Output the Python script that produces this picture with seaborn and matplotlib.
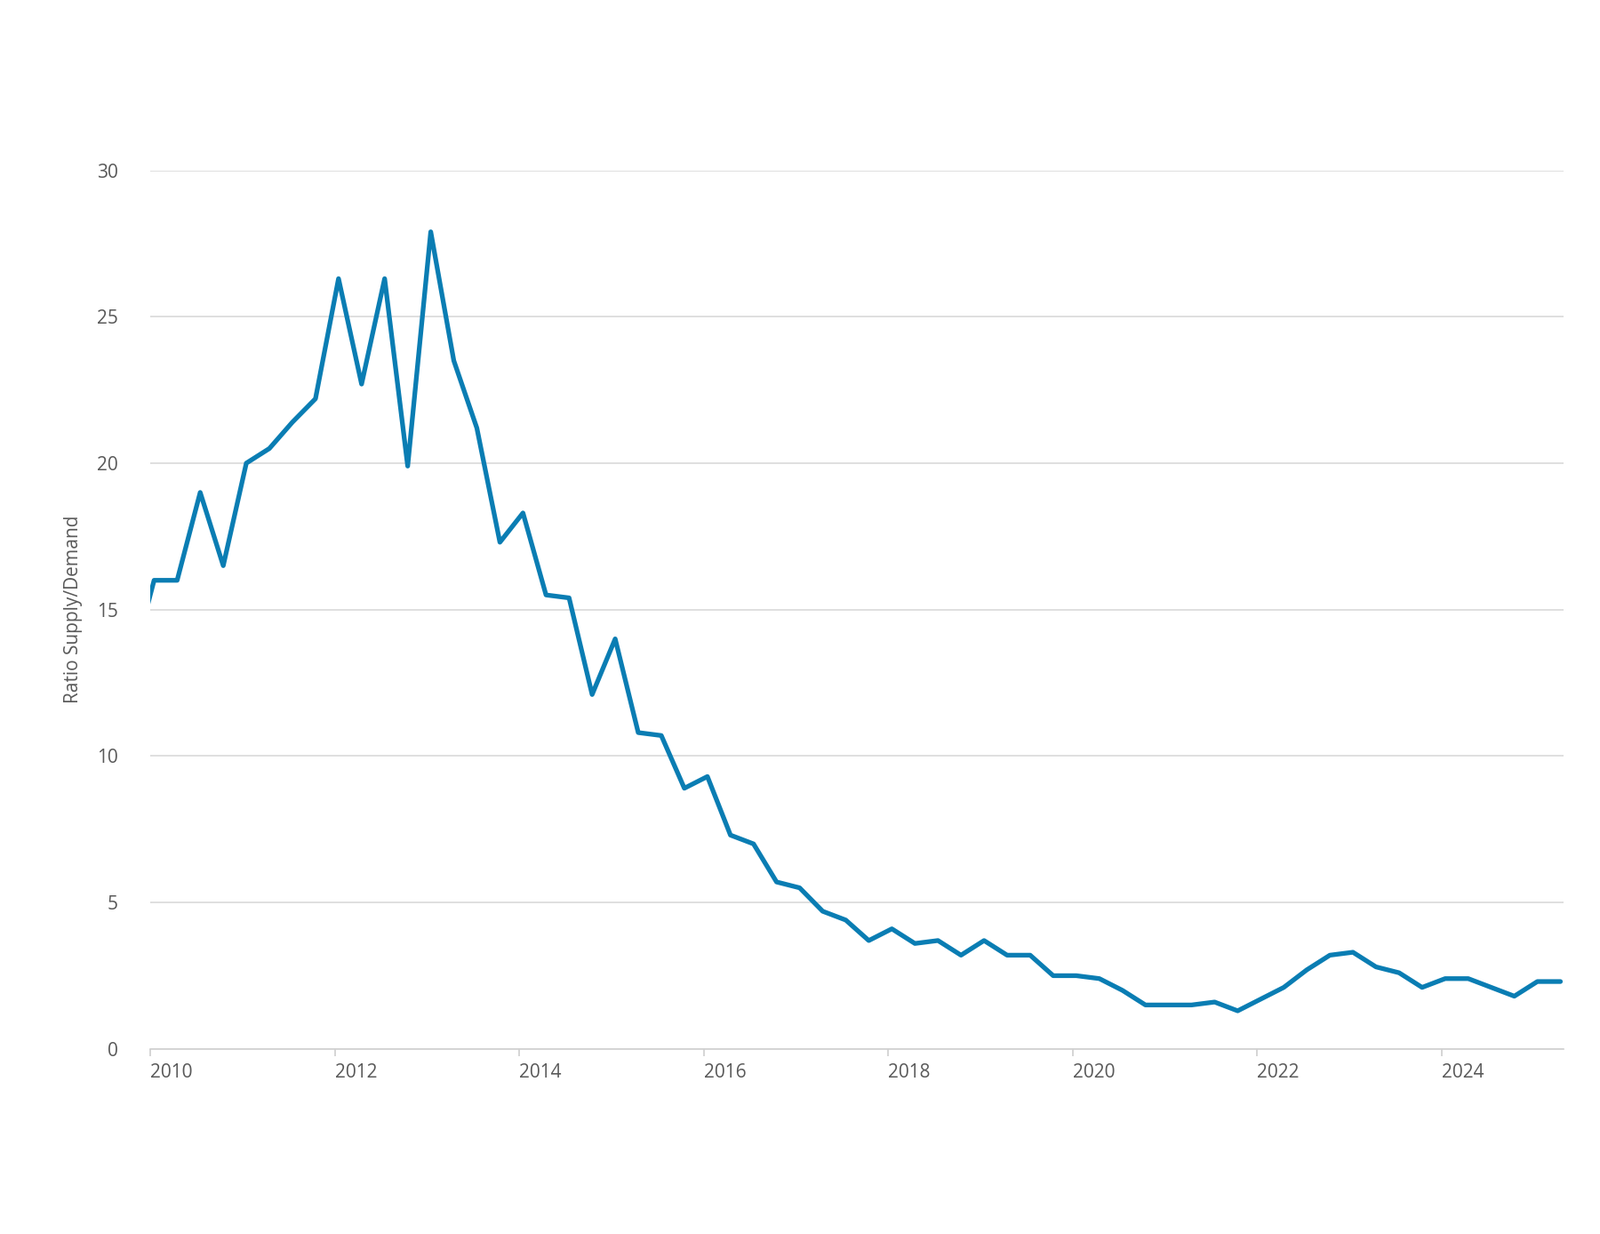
import numpy as np
import pandas as pd
import seaborn as sns
import matplotlib.pyplot as plt

sns.set_theme(style='white', rc={'font.family': 'Open Sans'})

# quarterly ratio supply/demand (first value is the quarter before 2010, clipped)
ratio = [13.0, 16.0, 16.0, 19.0, 16.5, 20.0, 20.5, 21.4, 22.2,
         26.3, 22.7, 26.3, 19.9, 27.9, 23.5, 21.2, 17.3,
         18.3, 15.5, 15.4, 12.1, 14.0, 10.8, 10.7, 8.9,
         9.3, 7.3, 7.0, 5.7, 5.5, 4.7, 4.4, 3.7,
         4.1, 3.6, 3.7, 3.2, 3.7, 3.2, 3.2, 2.5,
         2.5, 2.4, 2.0, 1.5, 1.5, 1.5, 1.6, 1.3,
         1.7, 2.1, 2.7, 3.2, 3.3, 2.8, 2.6, 2.1,
         2.4, 2.4, 2.1, 1.8, 2.3, 2.3]
start_year = 2009.79
step = 0.25
x_ticks = [2010, 2012, 2014, 2016, 2018, 2020, 2022, 2024]
y_ticks = [0, 5, 10, 15, 20, 25, 30]

df = pd.DataFrame({'year': start_year + step * np.arange(len(ratio)), 'ratio': ratio})

fig = plt.figure(figsize=(18, 13.88), dpi=100)
ax = fig.add_axes([0.094, 0.15, 0.883, 0.712])
sns.lineplot(data=df, x='year', y='ratio', ax=ax, color='#0a7db3', linewidth=3.8)

ax.set_xlim(2010, 2025.32)
ax.set_ylim(0, 30)
ax.set_xticks(x_ticks)
ax.set_xticklabels([str(t) for t in x_ticks])
ax.set_yticks(y_ticks)
ax.yaxis.grid(True, color='#d9d9d9', linewidth=1.2)
ax.set_axisbelow(True)
for s in ['top', 'right', 'left']:
    ax.spines[s].set_visible(False)
ax.spines['bottom'].set_color('#d0d0d0')
ax.spines['bottom'].set_linewidth(1.2)
ax.tick_params(axis='x', bottom=True, length=6, color='#d0d0d0', labelsize=15, labelcolor='#595959', pad=6)
ax.tick_params(axis='y', left=False, labelsize=15, labelcolor='#595959', pad=20)
for lab in ax.get_xticklabels():
    lab.set_horizontalalignment('left')
ax.set_xlabel('')
ax.set_ylabel('Ratio Supply/Demand', fontsize=15, color='#595959', labelpad=12)

fig.savefig('out.png', dpi=100)
